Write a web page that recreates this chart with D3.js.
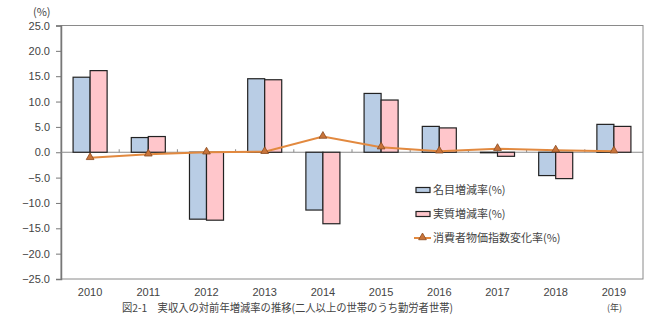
<!DOCTYPE html>
<html><head><meta charset="utf-8">
<script src="https://cdn.jsdelivr.net/npm/d3@7"></script>
<style>
html,body{margin:0;padding:0;background:#fff;}
svg{display:block;font-family:"Noto Sans CJK JP","Noto Sans",sans-serif;}
</style></head>
<body><svg id="c" width="660" height="327"></svg>
<script>
const years = ["2010","2011","2012","2013","2014","2015","2016","2017","2018","2019"];
const nominal = [14.8, 2.9, -13.2, 14.5, -11.4, 11.6, 5.1, -0.1, -4.6, 5.5];
const real = [16.1, 3.1, -13.4, 14.3, -14.1, 10.3, 4.8, -0.8, -5.2, 5.1];
const cpi = [-1.1, -0.4, 0.0, 0.1, 3.1, 1.0, 0.2, 0.7, 0.4, 0.2];
const yTicks = [25, 20, 15, 10, 5, 0, -5, -10, -15, -20, -25];
const seriesNames = ["名目増減率(%)", "実質増減率(%)", "消費者物価指数変化率(%)"];
const caption = "図2-1　実収入の対前年増減率の推移(二人以上の世帯のうち勤労者世帯)";

const svg = d3.select("#c");
const L = 61, R = 643, T = 25.5, B = 279;
const x0 = d3.scaleBand().domain(years).range([L, R]).padding(0);
const keys = ["nominal", "real"];
const x1 = d3.scaleBand().domain(keys).range([0, x0.bandwidth()]).paddingInner(0).paddingOuter(0.71);
const y = d3.scaleLinear().domain([-25, 25]).range([B, T]);
const fills = {nominal: "#b9cde5", real: "#ffc6cb"};
const textCol = "#444";

// frame
svg.append("rect").attr("x", L).attr("y", T).attr("width", R - L).attr("height", B - T)
  .attr("fill", "none").attr("stroke", "#8a8a8a").attr("stroke-width", 1);

// y axis
const yAxis = d3.axisLeft(y).tickValues(yTicks).tickFormat(d3.format(".1f")).tickSize(5).tickPadding(6);
const gy = svg.append("g").attr("transform", `translate(${L},0)`).call(yAxis);
gy.select(".domain").attr("stroke", "#777").attr("stroke-width", 1.5);
gy.selectAll(".tick line").attr("stroke", "#777");
gy.selectAll(".tick text").attr("fill", textCol).attr("font-size", 11)
  .attr("font-family", "'Liberation Sans',Arial,sans-serif");

// zero line with category ticks
const zeroY = y(0);
svg.append("line").attr("x1", L).attr("x2", R).attr("y1", zeroY).attr("y2", zeroY)
  .attr("stroke", "#8a8a8a").attr("stroke-width", 1);
svg.append("g").selectAll("line").data(years.slice(1)).join("line")
  .attr("x1", d => x0(d)).attr("x2", d => x0(d))
  .attr("y1", zeroY).attr("y2", zeroY - 3).attr("stroke", "#8a8a8a");

// bars
const data = years.map((yr, i) => ({yr, nominal: nominal[i], real: real[i]}));
const grp = svg.append("g").selectAll("g").data(data).join("g")
  .attr("transform", d => `translate(${x0(d.yr)},0)`);
grp.selectAll("rect").data(d => keys.map(k => ({k, v: d[k]}))).join("rect")
  .attr("x", d => x1(d.k)).attr("width", x1.bandwidth())
  .attr("y", d => y(Math.max(0, d.v))).attr("height", d => Math.abs(y(d.v) - y(0)))
  .attr("fill", d => fills[d.k]).attr("stroke", "#222").attr("stroke-width", 1.2);

// cpi line
const cx = d => x0(d) + x0.bandwidth() / 2;
const lineData = years.map((yr, i) => ({yr, v: cpi[i]}));
svg.append("path").datum(lineData)
  .attr("d", d3.line().x(d => cx(d.yr)).y(d => y(d.v)))
  .attr("fill", "none").attr("stroke", "#e2893f").attr("stroke-width", 2);
const tri = d3.symbol().type(d3.symbolTriangle).size(26);
svg.append("g").selectAll("path").data(lineData).join("path")
  .attr("d", tri).attr("transform", d => `translate(${cx(d.yr)},${y(d.v) - 0.5})`)
  .attr("fill", "#c9743a").attr("stroke", "#8a4a20").attr("stroke-width", 0.8);

// x labels
svg.append("g").selectAll("text").data(years).join("text")
  .attr("x", d => cx(d)).attr("y", 296).attr("text-anchor", "middle")
  .attr("font-size", 11).attr("fill", textCol)
  .attr("font-family", "'Liberation Sans',Arial,sans-serif").text(d => d);

// unit labels
svg.append("text").attr("x", 33).attr("y", 16).attr("font-size", 11).attr("fill", textCol).text("(%)");
svg.append("text").attr("x", 607).attr("y", 311).attr("font-size", 9).attr("fill", textCol).text("(年)");

// caption
svg.append("text").attr("x", 122).attr("y", 312).attr("font-size", 11).attr("fill", textCol)
  .attr("textLength", 331).attr("lengthAdjust", "spacingAndGlyphs").text(caption);

// legend
const lg = svg.append("g");
const ly = [190, 214, 238];
[0, 1].forEach(i => {
  lg.append("rect").attr("x", 416).attr("y", ly[i] - 2.5).attr("width", 14).attr("height", 5)
    .attr("fill", fills[keys[i]]).attr("stroke", "#222").attr("stroke-width", 1.2);
});
lg.append("line").attr("x1", 414).attr("x2", 431).attr("y1", ly[2]).attr("y2", ly[2])
  .attr("stroke", "#e2893f").attr("stroke-width", 2);
lg.append("path").attr("d", tri).attr("transform", `translate(422.5,${ly[2] - 0.5})`)
  .attr("fill", "#c9743a").attr("stroke", "#8a4a20").attr("stroke-width", 0.8);
lg.selectAll("text").data(seriesNames).join("text")
  .attr("x", 433).attr("y", (d, i) => ly[i] + 4).attr("font-size", 11).attr("fill", textCol).text(d => d);
</script></body></html>
